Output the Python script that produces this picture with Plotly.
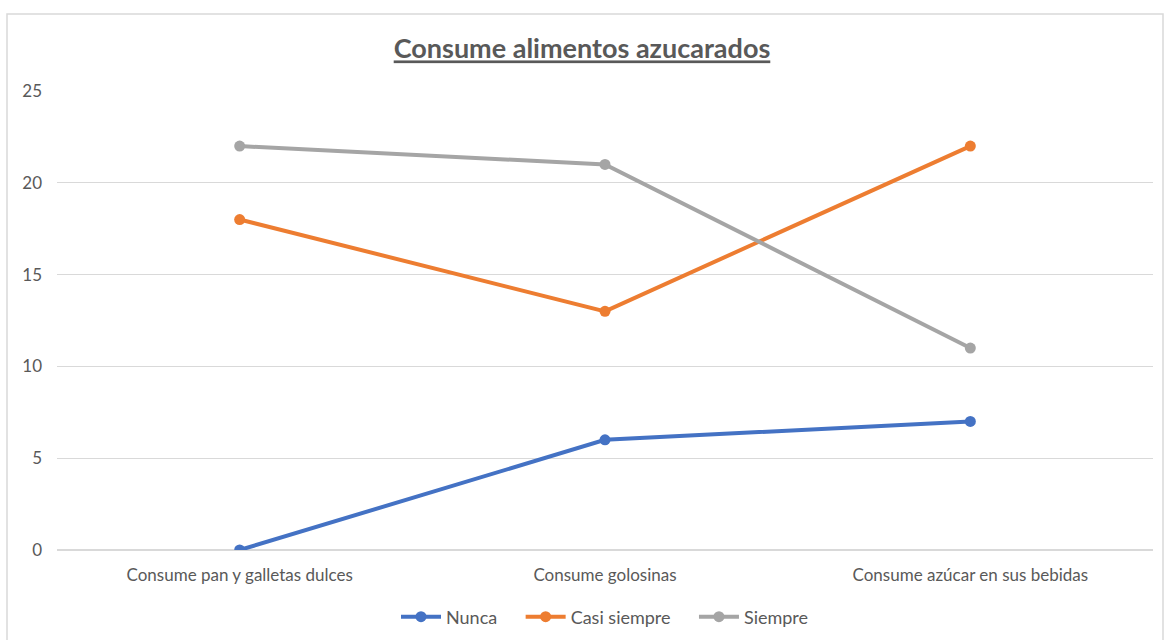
import plotly.graph_objects as go

categories = ["Consume pan y galletas dulces", "Consume golosinas", "Consume azúcar en sus bebidas"]
nunca = [0, 6, 7]
casi_siempre = [18, 13, 22]
siempre = [22, 21, 11]
series_names = ["Nunca", "Casi siempre", "Siempre"]
colors = ["#4472C4", "#ED7D31", "#A5A5A5"]

W, H = 1164, 640
L, R, T, B = 57, 11, 91, 90
pw, ph = W - L - R, H - T - B

fig = go.Figure()
for i, (name, vals, c) in enumerate(zip(series_names, [nunca, casi_siempre, siempre], colors)):
    label = name + ("\u00a0" * 4 if i < len(series_names) - 1 else "")
    fig.add_trace(go.Scatter(
        x=categories, y=vals, name=label, mode="lines+markers",
        line=dict(color=c, width=4), marker=dict(color=c, size=11),
    ))

def px_x(p):
    return (p - L) / pw

def px_y(p):
    return (H - B - p) / ph

fig.add_shape(type="rect", xref="paper", yref="paper",
              x0=px_x(7), x1=px_x(1163), y0=px_y(660), y1=px_y(14),
              line=dict(color="#d9d9d9", width=1.5), fillcolor="rgba(0,0,0,0)", layer="below")

fig.update_layout(
    width=W, height=H,
    margin=dict(l=L, r=R, t=T, b=B, autoexpand=False),
    paper_bgcolor="white", plot_bgcolor="white",
    font=dict(family="Lato, Open Sans, sans-serif", color="#595959", size=17),
    title=dict(text="<b><u>Consume alimentos azucarados</u></b>", x=0.5, xanchor="center",
               y=1 - 49 / H, yanchor="middle", font=dict(size=27, color="#595959")),
    xaxis=dict(range=[-0.5, 2.5], showgrid=False, showline=False, zeroline=False, ticks="",
               automargin=False, ticklabelstandoff=13,
               tickfont=dict(size=17, color="#595959")),
    yaxis=dict(range=[0, 25], dtick=5, showgrid=True, gridcolor="#d9d9d9", gridwidth=1,
               zeroline=True, zerolinecolor="#d9d9d9", zerolinewidth=1.5,
               showline=False, ticks="", ticklabelstandoff=14, automargin=False,
               tickfont=dict(size=17, color="#595959")),
    legend=dict(orientation="h", x=0.5, xanchor="center", y=px_y(617), yanchor="middle",
                font=dict(size=18, color="#595959"), itemwidth=40, tracegroupgap=0),
    showlegend=True,
)
fig.write_html("out.html")
